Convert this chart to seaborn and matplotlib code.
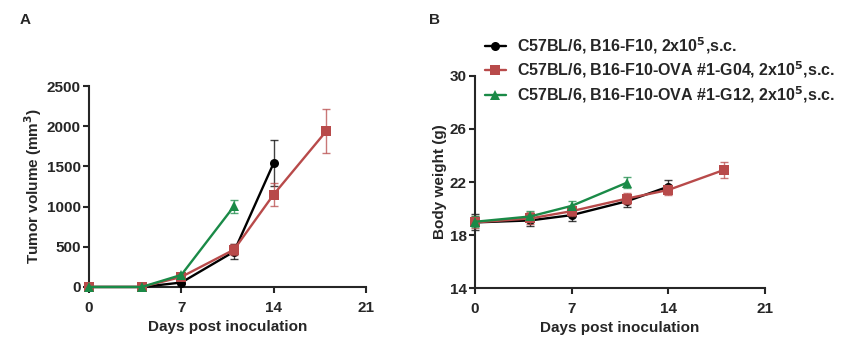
import matplotlib
matplotlib.use("Agg")
import matplotlib.pyplot as plt
import seaborn as sns
import pandas as pd

sns.set_style("ticks")
plt.rcParams['font.family'] = ['Liberation Sans', 'DejaVu Sans']
plt.rcParams['font.weight'] = 'bold'
plt.rcParams['mathtext.default'] = 'bf'

# Data
days_f10 = [0, 4, 7, 11, 14]
days_g04 = [0, 4, 7, 11, 14, 18]
days_g12 = [0, 4, 7, 11]

vol_f10 = [0, 0, 55, 440, 1540]
vol_f10_err = [0, 0, 20, 95, 285]
vol_g04 = [0, 0, 125, 465, 1150, 1940]
vol_g04_err = [0, 0, 20, 65, 140, 270]
vol_g12 = [0, 0, 150, 1005]
vol_g12_err = [0, 0, 20, 80]

bw_f10 = [18.95, 19.1, 19.5, 20.55, 21.65]
bw_f10_err = [0.6, 0.45, 0.45, 0.4, 0.5]
bw_g04 = [18.95, 19.25, 19.8, 20.75, 21.4, 22.9]
bw_g04_err = [0.45, 0.45, 0.4, 0.4, 0.4, 0.6]
bw_g12 = [19.0, 19.4, 20.2, 21.95]
bw_g12_err = [0.4, 0.4, 0.4, 0.4]

labels = ["C57BL/6, B16-F10, 2x10$^{5}$,s.c.",
          "C57BL/6, B16-F10-OVA #1-G04, 2x10$^{5}$,s.c.",
          "C57BL/6, B16-F10-OVA #1-G12, 2x10$^{5}$,s.c."]
colors = ["#000000", "#b84a4a", "#1a8a47"]
markers = ["o", "s", "^"]

fig = plt.figure(figsize=(8.44, 3.47), dpi=100)
axA = fig.add_axes([0.1055, 0.173, 0.328, 0.579])
axB = fig.add_axes([0.5628, 0.170, 0.3436, 0.611])

series_A = [(days_f10, vol_f10, vol_f10_err), (days_g04, vol_g04, vol_g04_err), (days_g12, vol_g12, vol_g12_err)]
series_B = [(days_f10, bw_f10, bw_f10_err), (days_g04, bw_g04, bw_g04_err), (days_g12, bw_g12, bw_g12_err)]
order = [0, 2, 1]

handles = [None, None, None]
for ax, series in [(axA, series_A), (axB, series_B)]:
    for i in order:
        d, v, e = series[i]
        df = pd.DataFrame({"day": d, "val": v})
        ax.errorbar(d, v, yerr=e, fmt='none', ecolor=colors[i], elinewidth=1.0,
                    capsize=3, capthick=1.0, alpha=0.75, zorder=2 + i, clip_on=False)
        sns.lineplot(data=df, x="day", y="val", ax=ax, color=colors[i], marker=markers[i],
                     markersize=7 if i == 1 else 6.5, markeredgewidth=0, linewidth=1.7,
                     zorder=3 + i, clip_on=False)
        if ax is axB:
            handles[i] = ax.lines[-1]

for ax in (axA, axB):
    ax.set_xlim(0, 21)
    ax.set_xticks([0, 7, 14, 21])
    sns.despine(ax=ax)
    for s in ("left", "bottom"):
        ax.spines[s].set_linewidth(1.5)
    ax.tick_params(width=1.5, length=4, labelsize=11)
    ax.tick_params(axis="x", pad=6)
    ax.tick_params(axis="y", pad=2)
    for lbl in ax.get_xticklabels() + ax.get_yticklabels():
        lbl.set_fontweight("bold")
    ax.set_xlabel("Days post inoculation", fontsize=11, fontweight="bold", labelpad=4)

axA.set_ylim(0, 2500)
axA.set_yticks([0, 500, 1000, 1500, 2000, 2500])
axA.set_ylabel("Tumor volume (mm$^{3}$)", fontsize=11, fontweight="bold", labelpad=2)

axB.set_ylim(14, 30)
axB.set_yticks([14, 18, 22, 26, 30])
axB.set_ylabel("Body weight (g)", fontsize=11, fontweight="bold", labelpad=2)

leg = fig.legend([handles[0], handles[1], handles[2]], labels, loc="upper left",
                 bbox_to_anchor=(485 / 844, 1 - 35 / 347), frameon=False, fontsize=11.5,
                 handlelength=1.3, handletextpad=0.7, labelspacing=0.25, borderpad=0,
                 borderaxespad=0)
for t in leg.get_texts():
    t.set_fontweight("bold")

fig.text(20 / 844, 1 - 20 / 347, "A", fontsize=11, fontweight="bold", va="center", ha="left")
fig.text(429 / 844, 1 - 20 / 347, "B", fontsize=11, fontweight="bold", va="center", ha="left")

fig.savefig("out.png", dpi=100)
